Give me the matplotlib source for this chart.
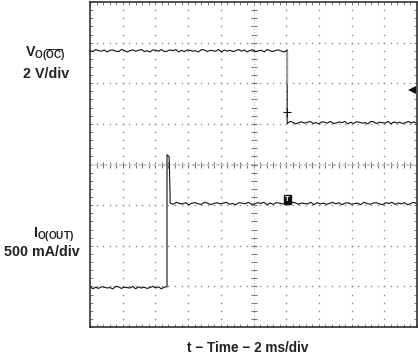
import numpy as np
import matplotlib
matplotlib.use('Agg')
import matplotlib.pyplot as plt
from matplotlib.patches import Rectangle

plt.rcParams['font.family'] = ['Liberation Sans', 'DejaVu Sans']
plt.rcParams['mathtext.fontset'] = 'custom'
plt.rcParams['mathtext.rm'] = 'Liberation Sans:bold'
plt.rcParams['mathtext.it'] = 'Liberation Sans:bold'
plt.rcParams['mathtext.bf'] = 'Liberation Sans:bold'

# scope screen: 10 x 8 divisions, values read in divisions
v_high, v_low = 6.80, 5.03          # V_O(OC) levels
v_fall_t = 6.03                     # time of the V_O(OC) fall
i_low, i_high, i_peak = 0.97, 3.04, 4.24   # I_O(OUT) levels
i_rise_t, i_settle_t = 2.355, 2.45
trig_t, trig_y = 6.03, 3.15
ref_marker = (9.86, 5.84)
cross_marker = (6.03, 5.29)

# trace jitter (div), read as roughly +/- 1 px
noise = [0.01, -0.02, 0.03, 0.00, -0.01, 0.02, -0.03, 0.01, 0.02, -0.01,
         -0.02, 0.03, 0.01, -0.03, 0.00, 0.02, -0.01, 0.01, 0.03, -0.02,
         0.00, -0.03, 0.02, 0.01, -0.01, 0.03, -0.02, -0.01, 0.02, 0.00,
         0.03, -0.03, 0.01, -0.02, 0.02, 0.01, -0.01, 0.00, -0.03, 0.03,
         0.02, -0.02, 0.01, 0.00, -0.01, 0.03, -0.03, 0.02, -0.01, 0.01,
         -0.02, 0.00, 0.03, -0.01, 0.02, -0.03, 0.01, 0.02, -0.02, 0.00,
         0.01, -0.03, 0.03, 0.00, -0.02, 0.01, 0.02, -0.01, -0.03, 0.02,
         0.00, 0.03, -0.02, 0.01, -0.01, 0.02, -0.03, 0.00, 0.03, -0.01]
noise = np.array(noise)

W, H = 418, 354
fig = plt.figure(figsize=(W / 100, H / 100), dpi=100)
ax = fig.add_axes([90 / W, 27 / H, 327 / W, 325 / H])
ax.set_xlim(0, 10)
ax.set_ylim(0, 8)

# dotted graticule
dot_c = '#8a8a8a'
for gx in range(1, 10):
    if gx == 5:
        continue
    ys = np.arange(0.2, 8, 0.2)
    ax.plot(np.full_like(ys, gx), ys, ls='none', marker='s', ms=1.0, mew=0, color=dot_c)
for gy in range(1, 8):
    if gy == 4:
        continue
    xs = np.arange(0.2, 10, 0.2)
    ax.plot(xs, np.full_like(xs, gy), ls='none', marker='s', ms=1.0, mew=0, color=dot_c)

# center axes with small ticks
xs = np.arange(0.2, 10, 0.2)
ax.plot(xs, np.full_like(xs, 4), ls='none', marker='|', ms=4, mew=0.8, color='#777')
ax.axhline(4, color='#c8c8c8', lw=1.4, ls=(0, (1.5, 1.0)))
ys = np.arange(0.2, 8, 0.2)
ax.plot(np.full_like(ys, 5), ys, ls='none', marker='_', ms=4, mew=0.8, color='#777')
ax.axvline(5, color='#aaaaaa', lw=0.7, ls=(0, (1, 2)))

# V_O(OC) trace
t1 = np.linspace(0, v_fall_t, 70)
t2 = np.linspace(v_fall_t, 10, 46)
vt = np.concatenate([t1, t2])
vy = np.concatenate([v_high + noise[:70], v_low + noise[10:56]])
ax.plot(vt, vy, color='#111', lw=0.8)
ax.plot([v_fall_t, v_fall_t], [v_high, 6.0], color='#9a9a9a', lw=1.0)
ax.plot(*cross_marker, marker='+', ms=6, mew=0.8, color='#111')

# I_O(OUT) trace
t3 = np.linspace(0, i_rise_t, 28)
t4 = np.linspace(i_settle_t, 10, 80)
it = np.concatenate([t3, [i_rise_t, i_settle_t - 0.03, i_settle_t], t4])
iy = np.concatenate([i_low + noise[30:58], [i_peak, i_peak - 0.05, i_high + 0.2], i_high + noise[:80]])
ax.plot(it, iy, color='#111', lw=0.8)

# markers
ax.plot(*ref_marker, marker='<', ms=6, color='#111', mew=0)
ax.add_patch(Rectangle((trig_t - 0.105, trig_y - 0.11), 0.21, 0.22, color='#111', zorder=5))
ax.text(trig_t, trig_y, 'T', color='white', fontsize=5.5, fontweight='bold',
        ha='center', va='center', zorder=6)

# frame and edge ticks
ax.set_xticks(np.arange(0, 10.01, 0.2))
ax.set_yticks(np.arange(0, 8.01, 0.2))
ax.tick_params(direction='in', length=2.5, width=0.6, color='#666',
               top=True, right=True, labelbottom=False, labelleft=False)
for s in ax.spines.values():
    s.set_linewidth(1.2)
    s.set_color('#333')

txt = dict(fontsize=10.3, fontweight='bold', color='#222', va='baseline', ha='center')
fig.text(45.5 / W, 1 - 57 / H, r'$\mathrm{V}_{\mathrm{O(\overline{OC})}}$', **txt)
fig.text(46.5 / W, 1 - 78 / H, '2 V/div', **txt)
fig.text(54 / W, 1 - 238 / H, r'$\mathrm{I}_{\mathrm{O(OUT)}}$', **txt)
fig.text(41.5 / W, 1 - 256 / H, '500 mA/div', **txt)
fig.text(248 / W, 1 - 352 / H, 't \u2212 Time \u2212 2 ms/div',
         **{**txt, 'fontsize': 9.8})

fig.savefig('out.png', dpi=100)
